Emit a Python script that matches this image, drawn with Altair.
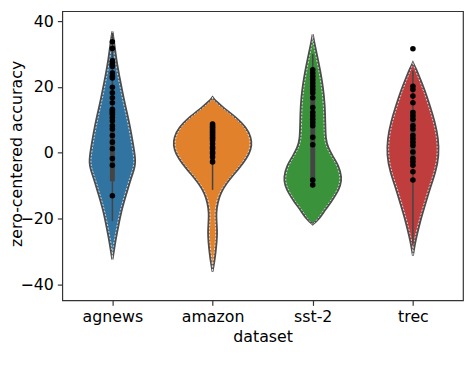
import altair as alt
import pandas as pd

categories = ["agnews", "amazon", "sst-2", "trec"]
colors = ["#3274a1", "#e1812c", "#3a923a", "#c03d3e"]

# violin outlines: value and half-width (fraction of category spacing)
agnews_v = [36.9, 33.0, 28.2, 23.2, 18.2, 13.0, 8.2, 3.0, -1.0, -3.0, -5.0, -7.3, -12.3, -17.3, -22.3, -27.3, -30.5, -32.5]
agnews_w = [0.0, 0.020, 0.039, 0.069, 0.101, 0.138, 0.174, 0.204, 0.225, 0.229, 0.218, 0.190, 0.141, 0.092, 0.059, 0.027, 0.012, 0.0]

amazon_v = [16.9, 16.3, 15.7, 13.7, 10.7, 7.7, 4.7, 2.2, -0.3, -3.3, -6.3, -9.3, -12.3, -15.3, -18.3, -21.3, -24.3, -27.3, -30.3, -33.3, -36.1]
amazon_w = [0.0, 0.015, 0.033, 0.105, 0.236, 0.335, 0.384, 0.391, 0.367, 0.302, 0.220, 0.138, 0.079, 0.049, 0.035, 0.040, 0.046, 0.040, 0.030, 0.017, 0.0]

sst2_v = [36.0, 33.0, 29.7, 24.7, 19.7, 14.7, 9.0, 4.0, 1.5, -1.0, -3.8, -7.5, -10.0, -12.3, -15.0, -17.3, -20.3, -21.8]
sst2_w = [0.0, 0.018, 0.042, 0.076, 0.103, 0.120, 0.125, 0.128, 0.153, 0.197, 0.256, 0.290, 0.276, 0.240, 0.182, 0.125, 0.059, 0.0]

trec_v = [27.4, 25.5, 23.2, 19.2, 14.2, 9.2, 4.2, -0.8, -5.8, -10.8, -15.8, -20.8, -25.8, -28.5, -31.3]
trec_w = [0.0, 0.030, 0.062, 0.115, 0.170, 0.220, 0.253, 0.259, 0.227, 0.170, 0.121, 0.072, 0.033, 0.015, 0.0]

# inner box: whisker low/high, quartiles
whisk_lo = [-20.8, -11.3, -10.5, -28.0]
whisk_hi = [36.5, 9.5, 30.0, 25.0]
q1 = [-8.7, -2.5, -9.5, -3.0]
q3 = [13.0, 7.5, 24.5, 13.0]

# strip points
agnews_pts = [33.7, 31.7, 27.9, 27.2, 26.7, 26.2, 24.2, 23.2, 22.7, 19.9, 18.2, 16.7, 15.2, 13.2, 12.7, 12.2, 11.7,
              10.7, 9.7, 8.2, 7.2, 5.2, 3.2, 1.2, -1.8, -3.8, -13.1]
amazon_pts = [8.7, 8.2, 7.7, 7.2, 6.7, 6.2, 5.7, 5.2, 4.7, 4.2, 3.7, 2.7, 1.7, 1.2, 0.2, -0.3, -1.3, -2.8]
sst2_pts = [25.2, 24.2, 23.2, 22.2, 21.2, 20.2, 19.2, 18.2, 16.7, 13.7, 12.2, 11.2, 10.2, 9.2, 8.2, 4.7, 2.4, -8.3, -9.8]
trec_pts = [31.6, 20.2, 19.2, 17.2, 15.2, 12.2, 11.2, 10.2, 8.2, 7.2, 5.2, 4.2, 3.2, 2.2, 0.2, -1.8, -2.8, -3.8, -5.8, -8.3]

violins = [(agnews_v, agnews_w), (amazon_v, amazon_w), (sst2_v, sst2_w), (trec_v, trec_w)]
points = [agnews_pts, amazon_pts, sst2_pts, trec_pts]

prows = []
for i, ps in enumerate(points):
    for p in ps:
        prows.append({"cat": categories[i], "idx": i, "v": p})
pdf = pd.DataFrame(prows)

bdf = pd.DataFrame({"cat": categories, "idx": list(range(4)), "lo": whisk_lo, "hi": whisk_hi, "q1": q1, "q3": q3})

Y_DOM = [-44.9, 43.0]
xscale = alt.Scale(domain=[-0.5, 3.5], nice=False, zero=False)
yscale = alt.Scale(domain=Y_DOM, nice=False, zero=False)

label_expr = "datum.value == 0 ? 'agnews' : datum.value == 1 ? 'amazon' : datum.value == 2 ? 'sst-2' : 'trec'"
xaxis = alt.Axis(values=[0, 1, 2, 3], labelExpr=label_expr, title="dataset", grid=False)
yaxis = alt.Axis(values=[-40, -20, 0, 20, 40], labelExpr="replace(format(datum.value, 'd'), '-', '\u2212')",
                 title="zero-centered accuracy", grid=False, titleX=-38, titleY=144)


def X(field):
    return alt.X(field, type="quantitative", scale=xscale, axis=xaxis, title="dataset")


def Y(field):
    return alt.Y(field, type="quantitative", scale=yscale, axis=yaxis, title="zero-centered accuracy")


layers = []
for i, (vs, ws) in enumerate(violins):
    vdf = pd.DataFrame({"v": vs, "w": ws, "idx": [i] * len(vs)})
    base_v = alt.Chart(vdf).transform_calculate(
        xl="datum.idx - datum.w", xr="datum.idx + datum.w",
        wi="max(datum.w - 0.013, 0)"
    ).transform_calculate(
        xli="datum.idx - datum.wi", xri="datum.idx + datum.wi"
    )
    violin = base_v.mark_area(orient="horizontal", interpolate="basis", stroke="#4d4d4d", strokeWidth=2,
                              fill=colors[i], fillOpacity=1).encode(
        y=Y("v"), x=X("xl"), x2="xr:Q",
    )
    inner = base_v.mark_area(orient="horizontal", interpolate="basis", fillOpacity=0, stroke="white",
                             strokeWidth=0.7, strokeDash=[2, 1.5]).encode(
        y=Y("v"), x=X("xli"), x2="xri:Q",
    )
    layers += [violin, inner]

whisk = alt.Chart(bdf).mark_rule(color="#444444", strokeWidth=1.5).encode(
    x=X("idx"), y=Y("lo"), y2="hi:Q")
box = alt.Chart(bdf).mark_rule(color="#444444", strokeWidth=5).encode(
    x=X("idx"), y=Y("q1"), y2="q3:Q")

pts = alt.Chart(pdf).mark_circle(color="black", size=32, opacity=1).encode(
    x=X("idx"), y=Y("v"))

chart = alt.layer(*layers, whisk, box, pts).properties(
    width=406, height=293,
    autosize=alt.AutoSizeParams(type="none"),
    padding={"left": 55, "top": 1, "right": 1, "bottom": 50},
).configure_view(
    stroke="#333333", strokeWidth=1.2
).configure_axis(
    labelFont="DejaVu Sans", titleFont="DejaVu Sans", labelFontSize=16, titleFontSize=16,
    labelColor="black", titleColor="black", titleFontWeight="normal",
    domain=False, tickColor="#333333", tickSize=5, tickWidth=1.2,
).configure_axisX(titlePadding=5, labelPadding=3).configure_axisY(labelPadding=4)

chart.save("out.html", embed_options={"renderer": "svg", "actions": False})
